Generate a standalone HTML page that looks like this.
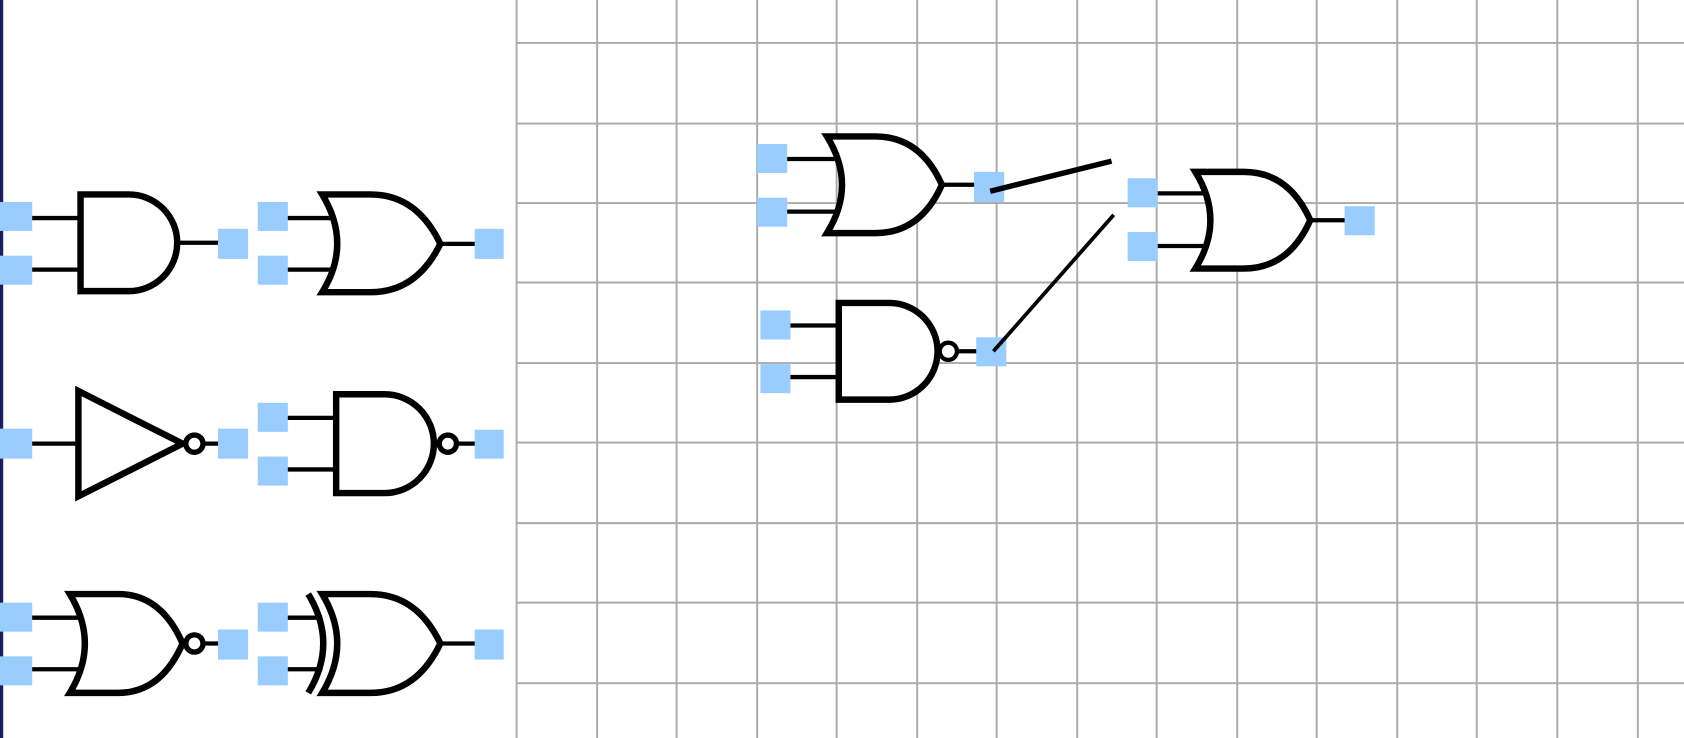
<!DOCTYPE html>
<html><head><meta charset="utf-8"><style>html,body{margin:0;padding:0;background:#fff;overflow:hidden}svg{display:block}</style></head>
<body>
<svg width="1684" height="738" viewBox="0 0 1568 687" preserveAspectRatio="none" xmlns="http://www.w3.org/2000/svg">
<rect x="0" y="0" width="1568" height="687" fill="#fff"/>
<rect x="0" y="0" width="3" height="687" fill="#1c1f5a"/>
<g stroke="#aaaaaa" stroke-width="1.8">
<line x1="481" y1="0" x2="481" y2="687"/><line x1="556" y1="0" x2="556" y2="687"/><line x1="630" y1="0" x2="630" y2="687"/><line x1="705" y1="0" x2="705" y2="687"/><line x1="779" y1="0" x2="779" y2="687"/><line x1="854" y1="0" x2="854" y2="687"/><line x1="928" y1="0" x2="928" y2="687"/><line x1="1003" y1="0" x2="1003" y2="687"/><line x1="1077" y1="0" x2="1077" y2="687"/><line x1="1152" y1="0" x2="1152" y2="687"/><line x1="1226" y1="0" x2="1226" y2="687"/><line x1="1301" y1="0" x2="1301" y2="687"/><line x1="1375" y1="0" x2="1375" y2="687"/><line x1="1450" y1="0" x2="1450" y2="687"/><line x1="1525" y1="0" x2="1525" y2="687"/>
<line x1="481" y1="40" x2="1568" y2="40"/><line x1="481" y1="115" x2="1568" y2="115"/><line x1="481" y1="189" x2="1568" y2="189"/><line x1="481" y1="263" x2="1568" y2="263"/><line x1="481" y1="338" x2="1568" y2="338"/><line x1="481" y1="412" x2="1568" y2="412"/><line x1="481" y1="487" x2="1568" y2="487"/><line x1="481" y1="561" x2="1568" y2="561"/><line x1="481" y1="636" x2="1568" y2="636"/>
</g>

<g fill="none" stroke="#000" stroke-width="4">
<line x1="28" y1="203" x2="75" y2="203"/><line x1="28" y1="251" x2="75" y2="251"/><line x1="165" y1="226" x2="205" y2="226"/>
<line x1="266" y1="203" x2="315" y2="203"/><line x1="266" y1="251" x2="315" y2="251"/><line x1="410" y1="227" x2="444" y2="227"/>
<line x1="28" y1="413" x2="73" y2="413"/><line x1="190" y1="413" x2="205" y2="413"/>
<line x1="266" y1="389" x2="313" y2="389"/><line x1="266" y1="437" x2="313" y2="437"/><line x1="425" y1="413" x2="444" y2="413"/>
<line x1="28" y1="575" x2="80" y2="575"/><line x1="28" y1="623" x2="80" y2="623"/><line x1="190" y1="599" x2="205" y2="599"/>
<line x1="266" y1="575" x2="300" y2="575"/><line x1="266" y1="623" x2="300" y2="623"/><line x1="410" y1="599" x2="444" y2="599"/>
<line x1="731" y1="148" x2="783" y2="148"/><line x1="731" y1="197" x2="783" y2="197"/><line x1="877" y1="172" x2="909" y2="172"/>
<line x1="734" y1="303" x2="781" y2="303"/><line x1="734" y1="351" x2="781" y2="351"/><line x1="892" y1="327" x2="911" y2="327"/>
<line x1="1076" y1="180" x2="1126" y2="180"/><line x1="1076" y1="229" x2="1126" y2="229"/><line x1="1220" y1="205" x2="1254" y2="205"/>
</g>

<g fill="#fff" stroke="#000" stroke-width="6" stroke-linejoin="miter">
<path d="M75,181 L120,181 A45,45 0 0 1 120,271 L75,271 Z"/>
<path d="M300,181 Q328,227 300,272 L345,272 Q388,272 410,227 Q388,181 345,181 Z"/>
<path d="M73,364 L170,413 L73,462 Z"/>
<circle cx="181" cy="413" r="8" stroke-width="5"/>
<path d="M313,367 L358,367 A46,46 0 0 1 358,459 L313,459 Z"/>
<circle cx="417" cy="413" r="8" stroke-width="5"/>
<path d="M65,553 Q93,599 65,645 L110,645 Q150,645 170,599 Q150,553 110,553 Z"/>
<circle cx="181" cy="599" r="8" stroke-width="5"/>
<path d="M300,553 Q328,599 300,645 L345,645 Q388,645 410,599 Q388,553 345,553 Z"/>
<path fill="none" d="M287,553 Q315,599 287,645"/>
<path d="M770,127 Q798,172 770,217 L815,217 Q857,217 877,172 Q857,127 815,127 Z"/>
<path d="M781,282 L828,282 A45,45 0 0 1 828,372 L781,372 Z"/>
<circle cx="883" cy="327" r="8" stroke-width="4"/>
<path d="M1113,160 Q1141,205 1113,250 L1158,250 Q1200,250 1220,205 Q1200,160 1158,160 Z"/>
</g>

<g fill="#99ccff">
<rect x="0" y="188" width="30" height="27"/>
<rect x="0" y="238" width="30" height="27"/>
<rect x="203" y="213" width="28" height="28"/>
<rect x="240" y="188" width="28" height="27"/>
<rect x="240" y="238" width="28" height="27"/>
<rect x="442" y="213" width="27" height="28"/>
<rect x="0" y="399" width="30" height="28"/>
<rect x="203" y="399" width="28" height="28"/>
<rect x="240" y="375" width="28" height="27"/>
<rect x="240" y="425" width="28" height="27"/>
<rect x="442" y="400" width="27" height="27"/>
<rect x="0" y="561" width="30" height="27"/>
<rect x="0" y="611" width="30" height="27"/>
<rect x="203" y="586" width="28" height="28"/>
<rect x="240" y="561" width="28" height="27"/>
<rect x="240" y="611" width="28" height="27"/>
<rect x="442" y="586" width="27" height="28"/>
<rect x="705" y="134" width="28" height="27"/>
<rect x="705" y="184" width="28" height="27"/>
<rect x="907" y="160" width="28" height="28"/>
<rect x="708" y="289" width="28" height="27"/>
<rect x="708" y="339" width="28" height="27"/>
<rect x="909" y="314" width="28" height="27"/>
<rect x="1050" y="166" width="28" height="27"/>
<rect x="1050" y="216" width="28" height="27"/>
<rect x="1252" y="192" width="28" height="27"/>
</g>

<line x1="922" y1="178" x2="1035" y2="150" stroke="#000" stroke-width="5"/>
<line x1="925" y1="327" x2="1037" y2="200" stroke="#000" stroke-width="3.5"/>
</svg>
</body></html>
